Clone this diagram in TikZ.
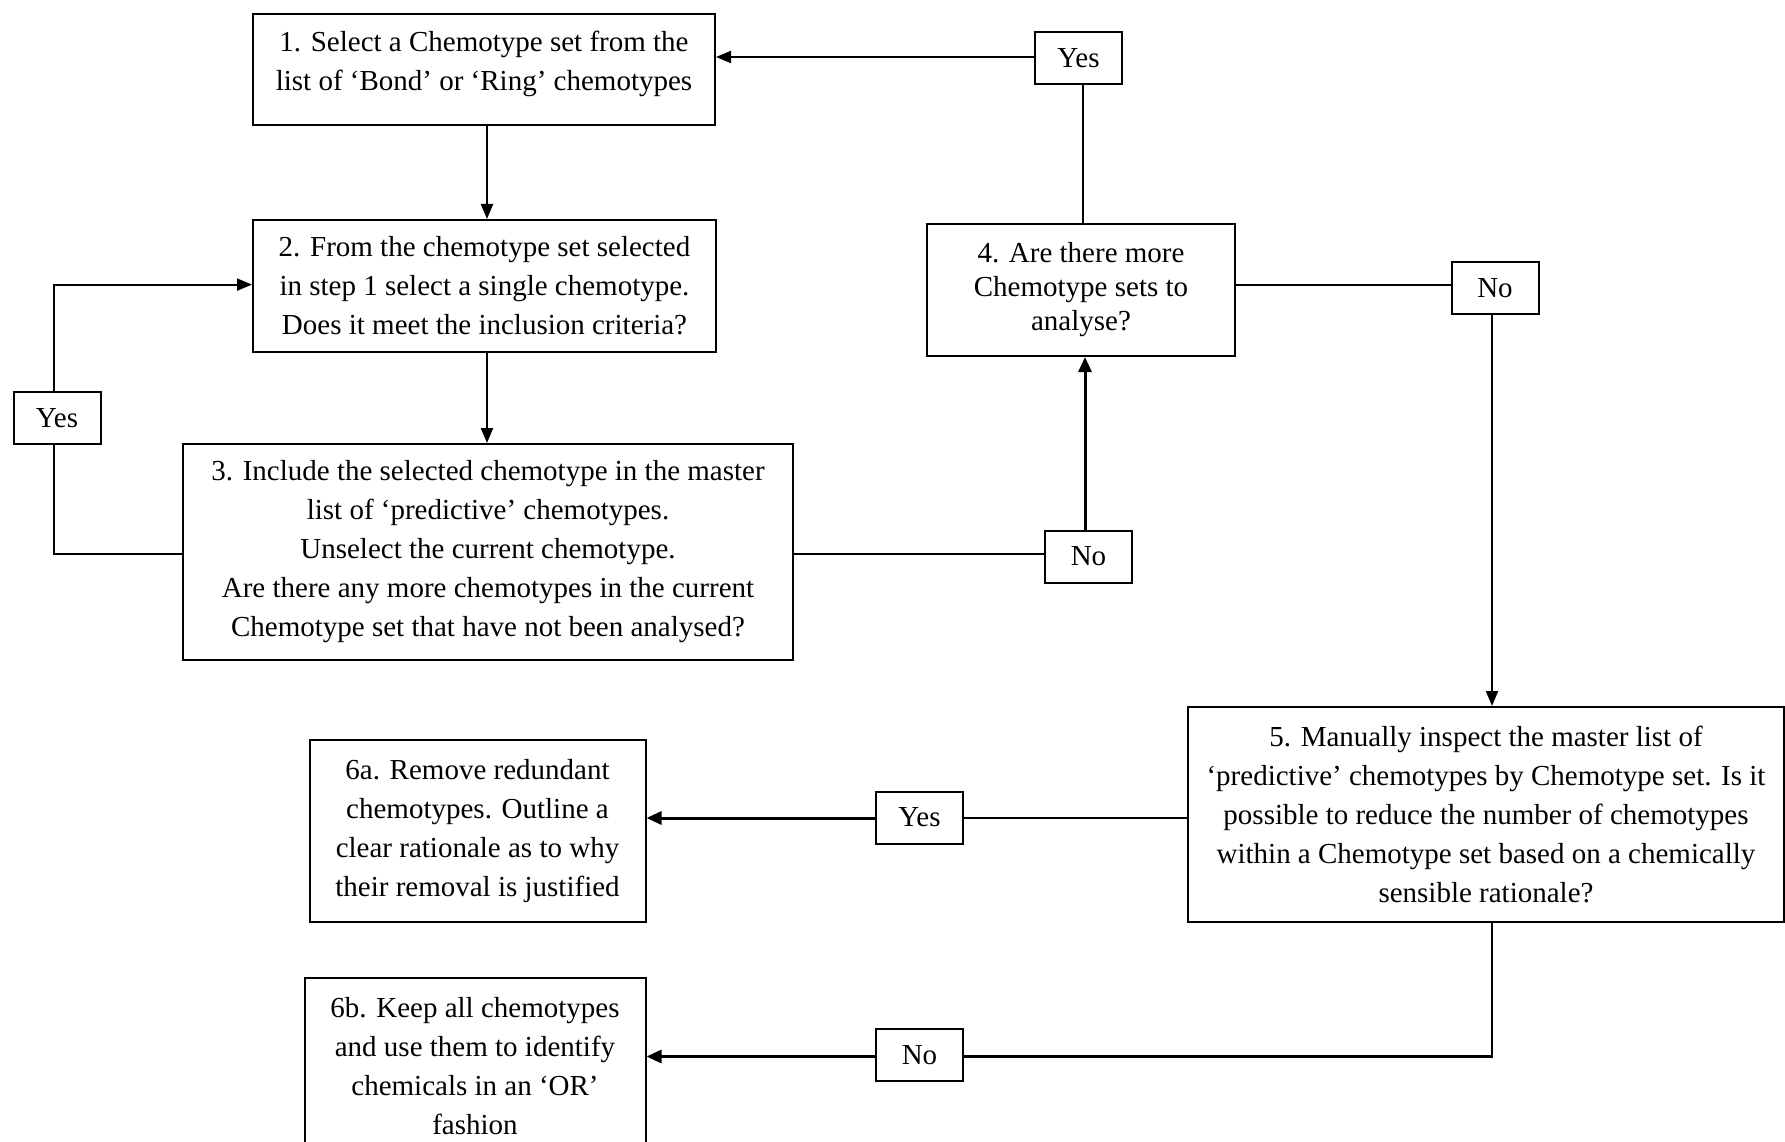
\documentclass[tikz,border=0pt]{standalone}
\usepackage{fontspec}
\setmainfont{Liberation Serif}
\usetikzlibrary{arrows.meta}
\begin{document}
\begin{tikzpicture}[x=1pt,y=-1pt,
  box/.style={draw, line width=2pt, align=center, inner sep=0pt,
    font=\fontsize{29}{39}\selectfont},
  lab/.style={draw, line width=2pt, inner sep=0pt, minimum width=87pt, minimum height=52pt,
    font=\fontsize{29}{39}\selectfont},
  conn/.style={line width=1.8pt},
  arr/.style={line width=2pt, -{Triangle[length=15pt,width=12pt]}},
  arrb/.style={line width=3pt, -{Triangle[length=15pt,width=13pt]}}]
\useasboundingbox (0,0) rectangle (1785,1142);
\fill[white] (0,0) rectangle (1785,1142);
% boxes
\node[box, minimum width=462pt, minimum height=111pt] (b1) at (484,69.5)
  {1. Select a Chemotype set from the\\list of ‘Bond’ or ‘Ring’ chemotypes\\[-21pt]};
\node[box, minimum width=463pt, minimum height=132pt] (b2) at (484.5,286)
  {2. From the chemotype set selected\\in step 1 select a single chemotype.\\Does it meet the inclusion criteria?};
\node[box, minimum width=610pt, minimum height=216pt] (b3) at (488,552)
  {3. Include the selected chemotype in the master\\list of ‘predictive’ chemotypes.\\Unselect the current chemotype.\\Are there any more chemotypes in the current\\Chemotype set that have not been analysed?};
\node[box, font=\fontsize{29}{34}\selectfont, minimum width=308pt, minimum height=132pt] (b4) at (1081,290)
  {4. Are there more\\Chemotype sets to\\analyse?};
\node[box, minimum width=596pt, minimum height=215pt] (b5) at (1486,814.5)
  {5. Manually inspect the master list of\\‘predictive’ chemotypes by Chemotype set. Is it\\possible to reduce the number of chemotypes\\within a Chemotype set based on a chemically\\sensible rationale?};
\node[box, minimum width=336pt, minimum height=182pt] (b6a) at (477.5,831)
  {6a. Remove redundant\\chemotypes. Outline a\\clear rationale as to why\\their removal is justified};
\node[box, minimum width=341pt, minimum height=176pt] (b6b) at (475,1066)
  {6b. Keep all chemotypes\\and use them to identify\\chemicals in an ‘OR’\\fashion};
% decision labels
\node[lab] (yesL) at (57,418) {Yes};
\node[lab] (noA) at (1088.5,556.5) {No};
\node[lab] (yesT) at (1078.5,58.5) {Yes};
\node[lab] (noR) at (1495,288) {No};
\node[lab] (yesM) at (919.5,817.5) {Yes};
\node[lab] (noB) at (919.5,1055) {No};
% coordinates
\coordinate (l1) at (54,554);
\coordinate (l2) at (54,284.6);
\coordinate (vx) at (487,0);
\coordinate (my) at (0,818);
% connectors
\draw[arr] (b1.south -| vx) -- (b2.north -| vx);
\draw[arr] (b2.south -| vx) -- (b3.north -| vx);
\draw[conn] (b3.west |- l1) -- (l1) -- (yesL.south -| l1);
\draw[arr] (yesL.north -| l2) -- (l2) -- (b2.west |- l2);
\draw[conn] (b3.east |- 0,554) -- (noA.west |- 0,554);
\draw[arrb] (noA.north -| 1085,0) -- (b4.south -| 1085,0);
\draw[conn] (b4.north -| 1083,0) -- (yesT.south -| 1083,0);
\draw[arr] (yesT.west |- 0,57) -- (b1.east |- 0,57);
\draw[conn] (b4.east |- 0,284.6) -- (noR.west |- 0,284.6);
\draw[arr] (noR.south -| 1492,0) -- (b5.north -| 1492,0);
\draw[conn, line width=2.4pt] (b5.west |- my) -- (yesM.east |- my);
\draw[arrb] (yesM.west |- my) -- (b6a.east |- my);
\coordinate (c5) at (1492,1056.5);
\draw[conn, line width=2.4pt] (b5.south -| c5) -- (c5) -- (noB.east |- c5);
\draw[arrb] (noB.west |- c5) -- (b6b.east |- c5);
\end{tikzpicture}
\end{document}
